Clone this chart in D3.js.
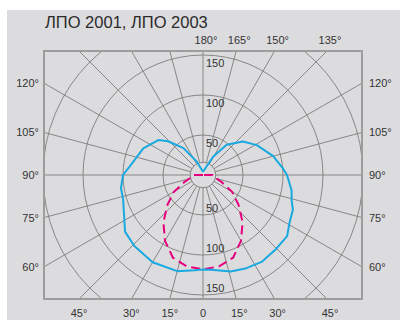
<!DOCTYPE html>
<html><head><meta charset="utf-8">
<script src="https://cdn.jsdelivr.net/npm/d3@7"></script>
<style>html,body{margin:0;padding:0;background:#fff;}svg{display:block;}</style>
</head><body>
<svg id="chart" width="400" height="320"></svg>
<script>
const title = "ЛПО 2001, ЛПО 2003";
const gridValues = [50, 100, 150, 200];
const circleLabels = [50, 100, 150];
const bottomTicks = [-45, -30, -15, 0, 15, 30, 45];
const bottomTickLabels = ["45°", "30°", "15°", "0", "15°", "30°", "45°"];
const topTicks = [180, 165, 150, 135];
const topTickLabels = ["180°", "165°", "150°", "135°"];
const sideTicks = [120, 105, 90, 75, 60];
const sideTickLabels = ["120°", "105°", "90°", "75°", "60°"];

// solid blue curve: left half and right half (angle from nadir, cd/klm)
const blueAnglesL = [0, 5, 15, 30, 44, 54, 63, 73, 81, 90, 97, 114, 128, 134, 144, 155, 180];
const blueValuesL = [118, 119.5, 124.4, 126, 123.5, 120.5, 110.7, 104.4, 103.8, 100, 92, 81.7, 71, 60.7, 41.5, 18.4, 4];
const blueAnglesR = [0, 5, 16, 25, 34, 44, 54, 61, 69, 74, 80, 90, 95, 105, 119, 130, 142, 151, 180];
const blueValuesR = [118, 119, 125.5, 128.5, 131, 130, 130, 123.6, 120.4, 115.2, 112.5, 105, 100, 90.8, 77, 65, 48, 26, 4];

// dashed magenta curve (symmetric)
const dashAngles = [0, 10, 20, 30, 40, 50, 60, 70, 80, 90, 180];
const dashValues = [118, 116, 110, 95, 77, 58, 42, 24, 14, 12, 0];

const W = 400, H = 320;
const cx = 203, cy = 175;
const frame = {x0: 44, y0: 51, x1: 362, y1: 299};
const hub = 16;

const svg = d3.select("#chart");
svg.append("rect").attr("x", 7).attr("y", 10).attr("width", W - 7).attr("height", H - 10).attr("fill", "#dcdcde");

const r = d3.scaleLinear().domain([0, 200]).range([0, 160]);
const rad = d => d * Math.PI / 180;

svg.append("defs").append("clipPath").attr("id", "clip")
  .append("rect").attr("x", frame.x0).attr("y", frame.y0)
  .attr("width", frame.x1 - frame.x0).attr("height", frame.y1 - frame.y0);

const g = svg.append("g").attr("clip-path", "url(#clip)");
const grid = g.append("g").attr("transform", `translate(${cx},${cy})`);

grid.selectAll("circle.grid").data([hub].concat(gridValues)).join("circle")
  .attr("class", "grid").attr("r", d => r(d))
  .attr("fill", "none").attr("stroke", "#7d7d7d").attr("stroke-width", 0.9);

grid.selectAll("line.spoke").data(d3.range(0, 360, 15)).join("line")
  .attr("class", "spoke")
  .attr("x1", d => r(hub) * Math.sin(rad(d))).attr("y1", d => r(hub) * Math.cos(rad(d)))
  .attr("x2", d => 400 * Math.sin(rad(d))).attr("y2", d => 400 * Math.cos(rad(d)))
  .attr("stroke", "#7d7d7d").attr("stroke-width", 0.9);

// circle labels
const lab = svg.append("g").attr("font-family", "'Liberation Sans', Arial, sans-serif")
  .attr("font-size", 11).attr("fill", "#333");
lab.selectAll("text.ct").data(circleLabels).join("text").attr("class", "ct")
  .attr("x", cx + 3).attr("y", d => cy - r(d) + 12).text(d => d);
lab.selectAll("text.cb").data(circleLabels).join("text").attr("class", "cb")
  .attr("x", cx + 3).attr("y", d => cy + r(d) - 3).text(d => d);

// curves
const toRadial = (angles, values, side) => angles.map((a, i) => [side > 0 ? Math.PI - rad(a) : Math.PI + rad(a), r(values[i])]);
const leftB = toRadial(blueAnglesL, blueValuesL, -1).reverse();
const rightB = toRadial(blueAnglesR, blueValuesR, 1);
const leftD = toRadial(dashAngles, dashValues, -1).reverse();
const rightD = toRadial(dashAngles, dashValues, 1);
const line = d3.lineRadial().angle(d => d[0]).radius(d => d[1]).curve(d3.curveLinear);

const curves = svg.append("g").attr("transform", `translate(${cx},${cy})`);
curves.append("path").attr("d", line(leftD.concat(rightD.slice(1))))
  .attr("fill", "none").attr("stroke", "#e5007d").attr("stroke-width", 2)
  .attr("stroke-dasharray", "9,5");
curves.append("path").attr("d", line(leftB.concat(rightB.slice(1))))
  .attr("fill", "none").attr("stroke", "#19a9e1").attr("stroke-width", 2)
  .attr("stroke-linejoin", "round");

// frame
svg.append("rect").attr("x", frame.x0).attr("y", frame.y0)
  .attr("width", frame.x1 - frame.x0).attr("height", frame.y1 - frame.y0)
  .attr("fill", "none").attr("stroke", "#9d9d9d").attr("stroke-width", 2);

// angle labels
const bottomY = frame.y1 - cy, topY = cy - frame.y0, sideX = frame.x1 - cx;
lab.selectAll("text.bt").data(bottomTicks).join("text").attr("class", "bt")
  .attr("text-anchor", "middle")
  .attr("x", d => cx + bottomY * Math.tan(rad(d)) + (d > 0 ? 3 : 0))
  .attr("y", frame.y1 + 18).text((d, i) => bottomTickLabels[i]);
lab.selectAll("text.tt").data(topTicks).join("text").attr("class", "tt")
  .attr("text-anchor", "middle")
  .attr("x", d => cx + topY * Math.tan(rad(180 - d)) + 3)
  .attr("y", frame.y0 - 7).text((d, i) => topTickLabels[i]);
lab.selectAll("text.lt").data(sideTicks).join("text").attr("class", "lt")
  .attr("text-anchor", "end")
  .attr("x", frame.x0 - 5)
  .attr("y", d => cy + sideX / Math.tan(rad(d)) + 4).text((d, i) => sideTickLabels[i]);
lab.selectAll("text.rt").data(sideTicks).join("text").attr("class", "rt")
  .attr("text-anchor", "start")
  .attr("x", frame.x1 + 7)
  .attr("y", d => cy + sideX / Math.tan(rad(d)) + 4).text((d, i) => sideTickLabels[i]);

svg.append("text").attr("x", 45).attr("y", 27.5)
  .attr("font-family", "'Liberation Sans', Arial, sans-serif").attr("font-size", 16.5)
  .attr("fill", "#2b2b2b").text(title);
</script>
</body></html>
